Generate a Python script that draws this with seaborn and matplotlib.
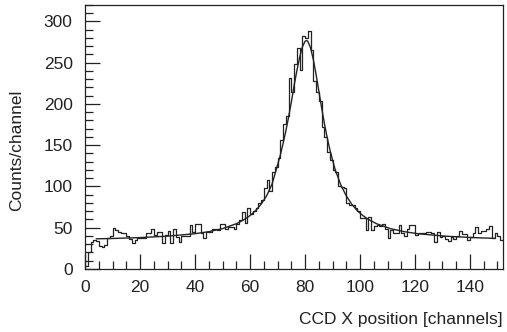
import numpy as np
import pandas as pd
import matplotlib
matplotlib.use("Agg")
import matplotlib.pyplot as plt
from matplotlib.ticker import MultipleLocator
import seaborn as sns

# Counts per CCD channel (bin i covers [i, i+1))
counts = [
    3, 20, 33, 35, 34, 28, 27, 29, 38, 40,
    50, 47, 45, 44, 43, 40, 36, 31, 35, 38,
    37, 38, 43, 43, 48, 41, 45, 45, 31, 41,
    46, 31, 48, 39, 33, 40, 40, 40, 53, 45,
    55, 55, 44, 37, 45, 45, 48, 48, 47, 54,
    54, 48, 51, 51, 48, 54, 59, 69, 56, 74,
    67, 70, 74, 80, 84, 98, 108, 94, 118, 124,
    135, 156, 176, 186, 232, 214, 249, 268, 241, 282,
    280, 288, 266, 228, 214, 204, 172, 160, 142, 132,
    120, 118, 100, 99, 98, 80, 77, 77, 74, 70,
    62, 62, 47, 63, 47, 52, 53, 52, 55, 48,
    37, 47, 43, 43, 53, 44, 40, 49, 53, 53,
    41, 43, 43, 44, 45, 45, 43, 33, 45, 39,
    40, 36, 34, 39, 36, 40, 46, 42, 42, 35,
    39, 44, 51, 44, 46, 46, 48, 52, 38, 44,
    40, 35,
]
n_channels = len(counts)

# Fitted peak + background curve, sampled along the channel axis
fit_x = [4, 10, 20, 30, 40, 45, 50, 55, 58, 60, 62, 64, 66, 68, 70, 71, 72,
         73, 74, 75, 76, 77, 78, 79, 80, 80.5, 81, 82, 83, 84, 85, 86, 87,
         88, 89, 90, 91, 93, 95, 97, 99, 101, 103, 106, 111, 116, 121, 131,
         141, 149]
fit_y = [36.5, 36.9, 38.0, 39.7, 42.7, 45.2, 48.9, 54.8, 60.1, 64.7, 70.7,
         78.4, 88.5, 103, 126, 138, 152, 167, 184, 202, 222, 240, 256, 269,
         276, 277, 276, 268, 254, 236, 216, 196, 177, 160, 145, 132, 120,
         102, 88.5, 78.4, 70.7, 64.7, 60.1, 54.8, 48.9, 45.2, 42.7, 39.7,
         38.0, 37.0]

x_ticks = [0, 20, 40, 60, 80, 100, 120, 140]
y_ticks = [0, 50, 100, 150, 200, 250, 300]

hist_df = pd.DataFrame({"channel": np.arange(n_channels) + 0.5,
                        "counts": np.asarray(counts, dtype=float)})
fit_df = pd.DataFrame({"x": fit_x, "y": fit_y})

sns.set_theme(style="white")
plt.rcParams["font.family"] = ["Liberation Sans", "DejaVu Sans"]

ink = "#222222"
fig = plt.figure(figsize=(5.07, 3.32), dpi=100)
ax = fig.add_axes([0.168, 0.19, 0.824, 0.795])

sns.histplot(data=hist_df, x="channel", weights="counts",
             binwidth=1, binrange=(0, n_channels), element="step",
             fill=False, color=ink, linewidth=0.9, ax=ax)
sns.lineplot(data=fit_df, x="x", y="y", color=ink, linewidth=1.0,
             ax=ax, estimator=None, sort=False)

ax.set_xlim(0, n_channels)
ax.set_ylim(0, 320)
ax.set_xticks(x_ticks)
ax.set_yticks(y_ticks)
ax.xaxis.set_minor_locator(MultipleLocator(5))
ax.yaxis.set_minor_locator(MultipleLocator(10))
ax.tick_params(axis="both", which="both", direction="in", colors=ink,
               labelsize=12.5, top=False, right=False,
               bottom=True, left=True)
ax.tick_params(axis="both", which="major", length=11, width=0.9)
ax.tick_params(axis="both", which="minor", length=6, width=0.9)
ax.tick_params(axis="x", which="major", pad=8)
ax.tick_params(axis="y", which="major", pad=9)
for s in ax.spines.values():
    s.set_color(ink)
    s.set_linewidth(0.9)
    s.set_visible(True)

ax.set_xlabel("CCD X position [channels]", fontsize=12.5, color=ink)
ax.xaxis.set_label_coords(1.0, -0.163)
ax.xaxis.label.set_horizontalalignment("right")
ax.set_ylabel("Counts/channel", fontsize=12.5, color=ink)
ax.yaxis.set_label_coords(-0.146, 0.45)
ax.grid(False)

fig.savefig("out.png", dpi=100)
